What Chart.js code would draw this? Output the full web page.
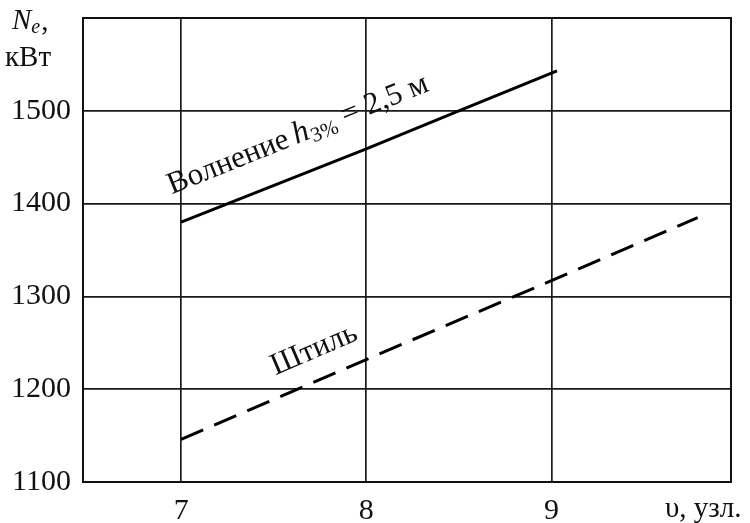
<!DOCTYPE html>
<html>
<head>
<meta charset="utf-8">
<script src="https://cdn.jsdelivr.net/npm/chart.js@4/dist/chart.umd.min.js"></script>
<style>
  body { margin: 0; background: #fff; }
  #wrap { width: 750px; height: 523px; }
</style>
</head>
<body>
<div id="wrap"><canvas id="powerChart" width="750" height="523"></canvas></div>
<script>
// speed, knots
const speedWaves = [7, 8, 8.5, 9.03];
const powerWaves = [1380, 1459, 1500, 1543];   // Волнение h3% = 2,5 м
const speedCalm = [7, 8, 9, 9.79];
const powerCalm = [1146, 1232, 1317, 1385];    // Штиль

const xTicks = [7, 8, 9];
const yTicks = [1100, 1200, 1300, 1400, 1500, 1600];

const serif = "'Liberation Serif', 'DejaVu Serif', serif";

function toPoints(xs, ys){
    return xs.map((x, i) => ({x: x, y: ys[i]}));
}

// frame, axis titles and the labels written along the curves
const extras = {
    id: "extras",
    afterDatasetsDraw(chart){
        const ctx = chart.ctx;
        const a = chart.chartArea;
        const xs = chart.scales.x;
        const ys = chart.scales.y;
        ctx.save();
        ctx.strokeStyle = "#111";
        ctx.lineWidth = 2;
        ctx.strokeRect(a.left, a.top, a.right - a.left, a.bottom - a.top);

        ctx.fillStyle = "#111";
        ctx.textBaseline = "alphabetic";
        ctx.textAlign = "left";

        // y title
        ctx.font = "italic 29px " + serif;
        ctx.fillText("N", 12, 29);
        let w = ctx.measureText("N").width;
        ctx.font = "italic 20px " + serif;
        ctx.fillText("e", 12 + w, 33);
        let w2 = ctx.measureText("e").width;
        ctx.font = "29px " + serif;
        ctx.fillText(",", 12 + w + w2 + 1, 30);
        ctx.fillText("кВт", 5, 66);

        // x title
        ctx.fillText("υ, узл.", 665, 517);

        // label along the rough-water curve
        const ang1 = Math.atan2(
            ys.getPixelForValue(powerWaves[3]) - ys.getPixelForValue(powerWaves[0]),
            xs.getPixelForValue(speedWaves[3]) - xs.getPixelForValue(speedWaves[0]));
        ctx.save();
        ctx.translate(xs.getPixelForValue(6.95), ys.getPixelForValue(1410));
        ctx.rotate(ang1);
        let x = 0;
        ctx.font = "31px " + serif;
        ctx.fillText("Волнение ", x, 0);
        x += ctx.measureText("Волнение ").width - 2;
        ctx.font = "italic 32px " + serif;
        ctx.fillText("h", x, 0);
        x += ctx.measureText("h").width + 1;
        ctx.font = "21px " + serif;
        ctx.fillText("3%", x, 5);
        x += ctx.measureText("3%").width;
        ctx.font = "31px " + serif;
        ctx.fillText(" = 2,5 м", x, 0);
        ctx.restore();

        // label along the calm-water curve
        const ang2 = Math.atan2(
            ys.getPixelForValue(powerCalm[3]) - ys.getPixelForValue(powerCalm[0]),
            xs.getPixelForValue(speedCalm[3]) - xs.getPixelForValue(speedCalm[0]));
        ctx.save();
        ctx.translate(xs.getPixelForValue(7.51), ys.getPixelForValue(1215));
        ctx.rotate(ang2);
        ctx.font = "31px " + serif;
        ctx.fillText("Штиль", 0, 0);
        ctx.restore();

        ctx.restore();
    }
};

new Chart(document.getElementById("powerChart"), {
    type: "line",
    data: {
        datasets: [
            {
                label: "Волнение h3% = 2,5 м",
                data: toPoints(speedWaves, powerWaves),
                borderColor: "#000",
                borderWidth: 3,
                pointRadius: 0,
                tension: 0,
                fill: false
            },
            {
                label: "Штиль",
                data: toPoints(speedCalm, powerCalm),
                borderColor: "#000",
                borderWidth: 3,
                borderDash: [24, 12],
                pointRadius: 0,
                tension: 0,
                fill: false
            }
        ]
    },
    options: {
        responsive: false,
        animation: false,
        layout: { padding: { top: 18, right: 19, left: 0, bottom: 0 } },
        plugins: {
            legend: { display: false },
            tooltip: { enabled: false }
        },
        scales: {
            x: {
                type: "linear",
                min: 6.47,
                max: 9.97,
                afterBuildTicks: s => { s.ticks = xTicks.map(v => ({value: v})); },
                afterFit: s => { s.height = 41; s.paddingLeft = 0; s.paddingRight = 0; },
                grid: { color: "#1a1a1a", lineWidth: 1.7, drawTicks: false },
                border: { display: false },
                ticks: {
                    padding: 11,
                    color: "#111",
                    font: { family: serif, size: 30 },
                    callback: v => String(v)
                }
            },
            y: {
                min: 1100,
                max: 1600,
                afterBuildTicks: s => { s.ticks = yTicks.map(v => ({value: v})); },
                afterFit: s => { s.width = 83; s.paddingTop = 0; s.paddingBottom = 0; },
                grid: { color: "#1a1a1a", lineWidth: 1.7, drawTicks: false },
                border: { display: false },
                ticks: {
                    padding: 12,
                    color: "#111",
                    font: { family: serif, size: 30 },
                    callback: v => (v === 1600 ? "" : String(v))
                }
            }
        }
    },
    plugins: [extras]
});
</script>
</body>
</html>
